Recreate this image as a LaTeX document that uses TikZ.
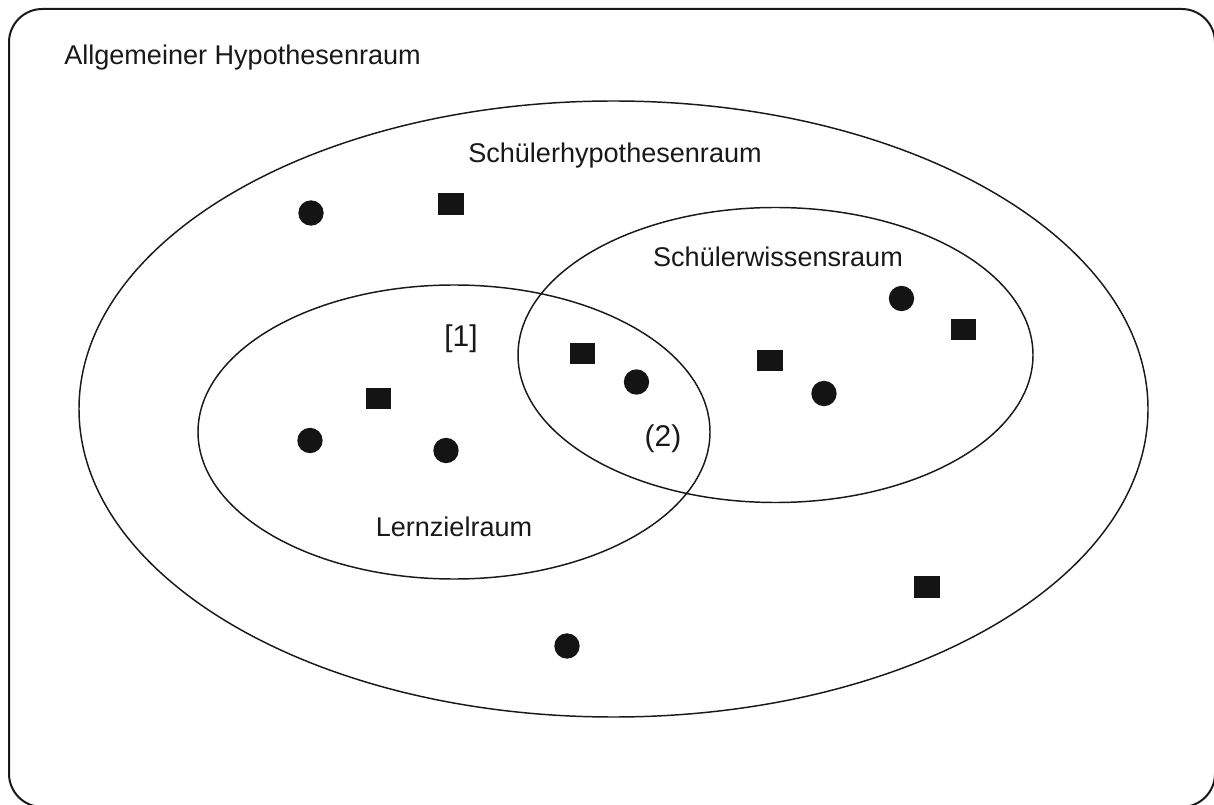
\documentclass[tikz,border=0pt]{standalone}
\usepackage{fontspec}
\setmainfont{Liberation Sans}
\begin{document}
\begin{tikzpicture}[x=0.75pt,y=-0.75pt,
  lbl/.style={font=\fontsize{20.3}{24}\selectfont, inner sep=0pt, text=black!90},
  biglbl/.style={font=\fontsize{22.5}{26}\selectfont, inner sep=0pt, text=black!90},
  dot/.style={circle, fill=black!92, inner sep=0pt, minimum size=19pt},
  sq/.style={rectangle, fill=black!92, inner sep=0pt, minimum width=19pt, minimum height=16pt},
  ring/.style={draw=black!90, line width=1.1pt}]
\useasboundingbox (0,0) rectangle (1214,805);
% outer frame
\draw[draw=black!90, line width=1.5pt, rounded corners=25pt] (9,9) rectangle (1215,807);
% ellipses
\draw[ring] (613.5,409) ellipse [x radius=534.5, y radius=308];
\draw[ring] (454,432) ellipse [x radius=256, y radius=147];
\draw[ring] (775.5,355) ellipse [x radius=257.5, y radius=147.5];
% labels
\node[lbl, anchor=base west] (allg) at (64,65) {Allgemeiner Hypothesenraum};
\node[lbl, anchor=base] (shr) at (615,163) {Schülerhypothesenraum};
\node[lbl, anchor=base] (swr) at (778,267) {Schülerwissensraum};
\node[biglbl, anchor=base] (one) at (461,347) {[1]};
\node[biglbl, anchor=base] (two) at (663,447) {(2)};
\node[lbl, anchor=base] (lzr) at (454,536) {Lernzielraum};
% circles
\node[dot] (c1) at (311,213) {};
\node[dot] (c2) at (310,440.5) {};
\node[dot] (c3) at (446,450.5) {};
\node[dot] (c4) at (636.5,382) {};
\node[dot] (c5) at (824,393.5) {};
\node[dot] (c6) at (901.5,298.5) {};
\node[dot] (c7) at (567,646) {};
% squares
\node[sq] (s1) at (451,204) {};
\node[sq] (s2) at (378.5,398.5) {};
\node[sq] (s3) at (582.5,353.5) {};
\node[sq] (s4) at (770,360.5) {};
\node[sq] (s5) at (963.5,329.5) {};
\node[sq] (s6) at (927,587) {};
\end{tikzpicture}
\end{document}
